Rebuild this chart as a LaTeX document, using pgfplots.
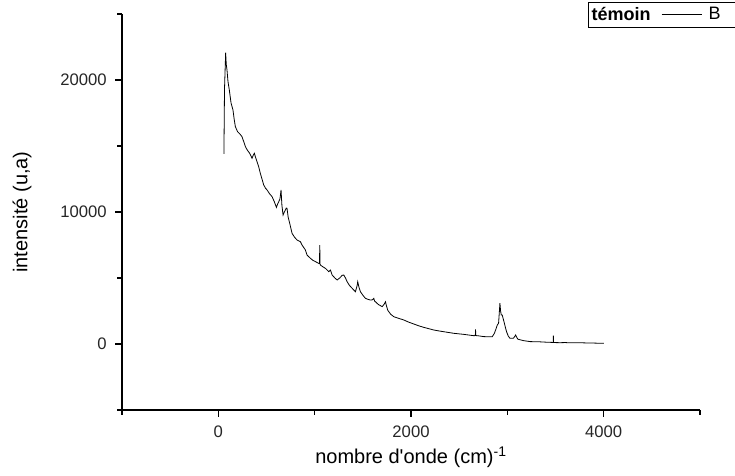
\documentclass[border=0pt]{standalone}
\usepackage{pgfplots}
\pgfplotsset{compat=1.18}
\usepackage{fontspec}
\setmainfont{Liberation Sans}
\begin{document}
\begin{tikzpicture}
\begin{axis}[
  scale only axis,
  width=433.5pt, height=297pt,
  xmin=-1000, xmax=5000, ymin=-5000, ymax=25000,
  axis lines*=left,
  axis line style={line width=1.1pt},
  xtick={0,2000,4000},
  minor xtick={-1000,1000,3000,5000},
  ytick={0,10000,20000},
  minor ytick={-5000,5000,15000,25000},
  scaled ticks=false,
  tick align=outside,
  major tick length=5pt, minor tick length=3.5pt,
  tick style={line width=1.1pt, black},
  /pgf/number format/assume math mode=true,
  /pgf/number format/.cd, 1000 sep={}, /pgfplots/.cd,
  ticklabel style={font=\fontsize{12.5}{14}\selectfont, text=black!85},
  xticklabel style={yshift=-3pt},
  yticklabel style={xshift=-3pt},
  xlabel={nombre d\textquotesingle onde (cm)\textsuperscript{-1}},
  ylabel={intensité (u,a)},
  xlabel style={font=\fontsize{15}{17}\selectfont, at={(axis description cs:0.5,-0.119)}, anchor=center},
  ylabel style={font=\fontsize{15}{17}\selectfont, at={(axis description cs:-0.173,0.5)}, anchor=center},
  legend columns=2,
  legend style={at={(0.806,1.03)}, anchor=north west, draw=black, line width=0.6pt,
    inner xsep=1.5pt, inner ysep=2.5pt, row sep=0pt, column sep=0pt,
    nodes={inner sep=1pt}},
  legend image code/.code={\draw[#1, line width=0.5pt] (0pt,0pt) -- (30pt,0pt);},
  clip=false,
]
\addlegendimage{empty legend}
\addlegendentry{\fontsize{13.5}{15}\selectfont\textbf{témoin}\hspace*{7pt}}
\addplot[black, line width=0.6pt] coordinates {
(58,14400)(64,19300)(76,22070)(82,21200)(90,20760)(100,19900)(114,19240)(132,18260)(152,17730)(165,17000)(177,16460)(200,16080)(225,15900)(246,15700)(265,15300)(281,14950)(300,14700)(325,14450)(350,14070)(362,14300)(374,14450)(388,14100)(402,13810)(420,13400)(436,12930)(471,12050)(490,11800)(506,11670)(530,11400)(558,11160)(580,10800)(603,10350)(615,10600)(627,10780)(640,11000)(651,11670)(660,10500)(672,9770)(685,10000)(696,10150)(705,10300)(713,10280)(725,9600)(741,9140)(765,8390)(790,8100)(817,7880)(852,7750)(869,7500)(904,7120)(921,6740)(956,6490)(980,6350)(1008,6240)(1042,6110)(1050,6100)(1053,7500)(1056,6050)(1060,5980)(1085,5850)(1112,5730)(1146,5480)(1164,5600)(1181,5230)(1210,5000)(1233,4850)(1260,5000)(1285,5200)(1302,5230)(1320,5000)(1337,4720)(1360,4450)(1389,4220)(1423,3960)(1440,4400)(1447,4720)(1460,4300)(1475,3960)(1500,3700)(1527,3460)(1555,3380)(1579,3330)(1600,3350)(1614,3460)(1622,3250)(1631,3200)(1660,3000)(1701,2830)(1720,3000)(1735,3200)(1745,2900)(1759,2550)(1790,2250)(1821,2070)(1870,1950)(1925,1820)(1975,1660)(2029,1515)(2080,1380)(2133,1260)(2185,1160)(2237,1060)(2290,990)(2341,930)(2393,870)(2445,810)(2497,770)(2549,730)(2600,680)(2653,630)(2668,640)(2670,1100)(2672,640)(2700,620)(2756,560)(2808,550)(2843,550)(2865,800)(2878,1060)(2896,1440)(2909,1570)(2915,2200)(2923,3100)(2930,2500)(2937,2200)(2947,2200)(2965,1690)(2980,1250)(2992,930)(3010,600)(3027,430)(3062,430)(3075,550)(3086,680)(3098,500)(3110,360)(3172,250)(3240,180)(3311,175)(3400,140)(3470,120)(3476,120)(3478,630)(3480,110)(3550,100)(3600,110)(3650,90)(3700,100)(3761,95)(3800,85)(3900,70)(4003,50)
};
\addlegendentry{\hspace*{4pt}\fontsize{13.5}{15}\selectfont B\rule{40pt}{0pt}}
\coordinate (sw) at (rel axis cs:0,0);
\coordinate (ne) at (rel axis cs:1,1);
\end{axis}
\pgfresetboundingbox
\path[use as bounding box] ([xshift=-91.5pt,yshift=-48.75pt]sw) rectangle ([xshift=26.25pt,yshift=10.5pt]ne);
\end{tikzpicture}
\end{document}
